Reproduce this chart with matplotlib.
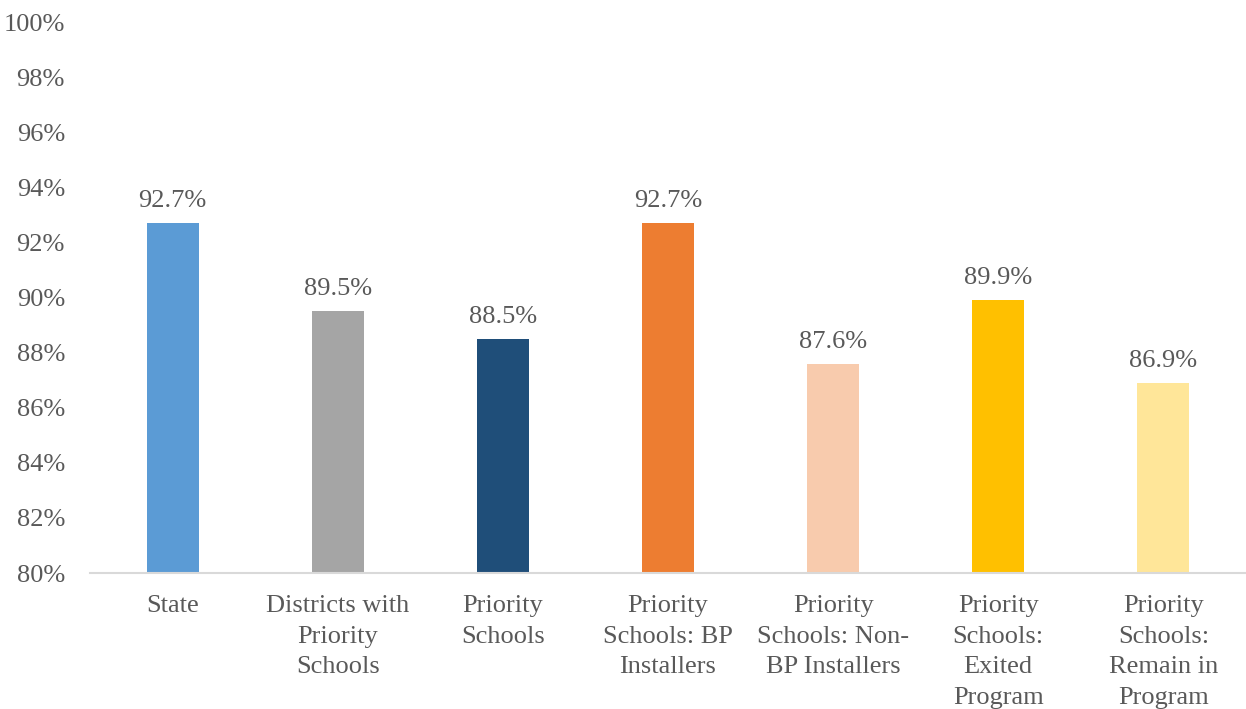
import matplotlib.pyplot as plt
import numpy as np

categories = [
    "State",
    "Districts with\nPriority\nSchools",
    "Priority\nSchools",
    "Priority\nSchools: BP\nInstallers",
    "Priority\nSchools: Non-\nBP Installers",
    "Priority\nSchools:\nExited\nProgram",
    "Priority\nSchools:\nRemain in\nProgram",
]
values = [92.7, 89.5, 88.5, 92.7, 87.6, 89.9, 86.9]
colors = ["#5B9BD5", "#A5A5A5", "#1F4E79", "#ED7D31", "#F8CBAD", "#FFC000", "#FFE699"]
yticks = list(range(80, 101, 2))


def main():
    plt.rcParams["font.family"] = ["Liberation Serif", "DejaVu Serif"]
    text_color = "#595959"
    fig = plt.figure(figsize=(12.46, 7.09), dpi=100)
    ax = fig.add_axes([0.0722, 0.1918, 0.9278, 0.777])
    x = np.arange(len(categories))
    bars = ax.bar(x, values, width=0.315, color=colors, bottom=0, zorder=2)
    ax.set_ylim(80, 100)
    ax.set_xlim(-0.5, len(categories) - 0.5)
    ax.set_yticks(yticks)
    ax.set_yticklabels([f"{t}%" for t in yticks])
    ax.set_xticks(x)
    ax.set_xticklabels(categories, linespacing=1.5, va="top")
    ax.tick_params(axis="both", length=0, labelsize=19, colors=text_color)
    ax.tick_params(axis="y", pad=18)
    ax.tick_params(axis="x", pad=16)
    for side in ["top", "right", "left"]:
        ax.spines[side].set_visible(False)
    ax.spines["bottom"].set_color("#D9D9D9")
    ax.spines["bottom"].set_linewidth(1.5)
    ax.spines["bottom"].set_zorder(3)
    for b, v in zip(bars, values):
        ax.annotate(f"{v:.1f}%", (b.get_x() + b.get_width() / 2, v),
                    xytext=(0, 8), textcoords="offset points",
                    ha="center", va="bottom", fontsize=19, color=text_color)
    fig.savefig("out.png", dpi=100)


if __name__ == "__main__":
    main()
